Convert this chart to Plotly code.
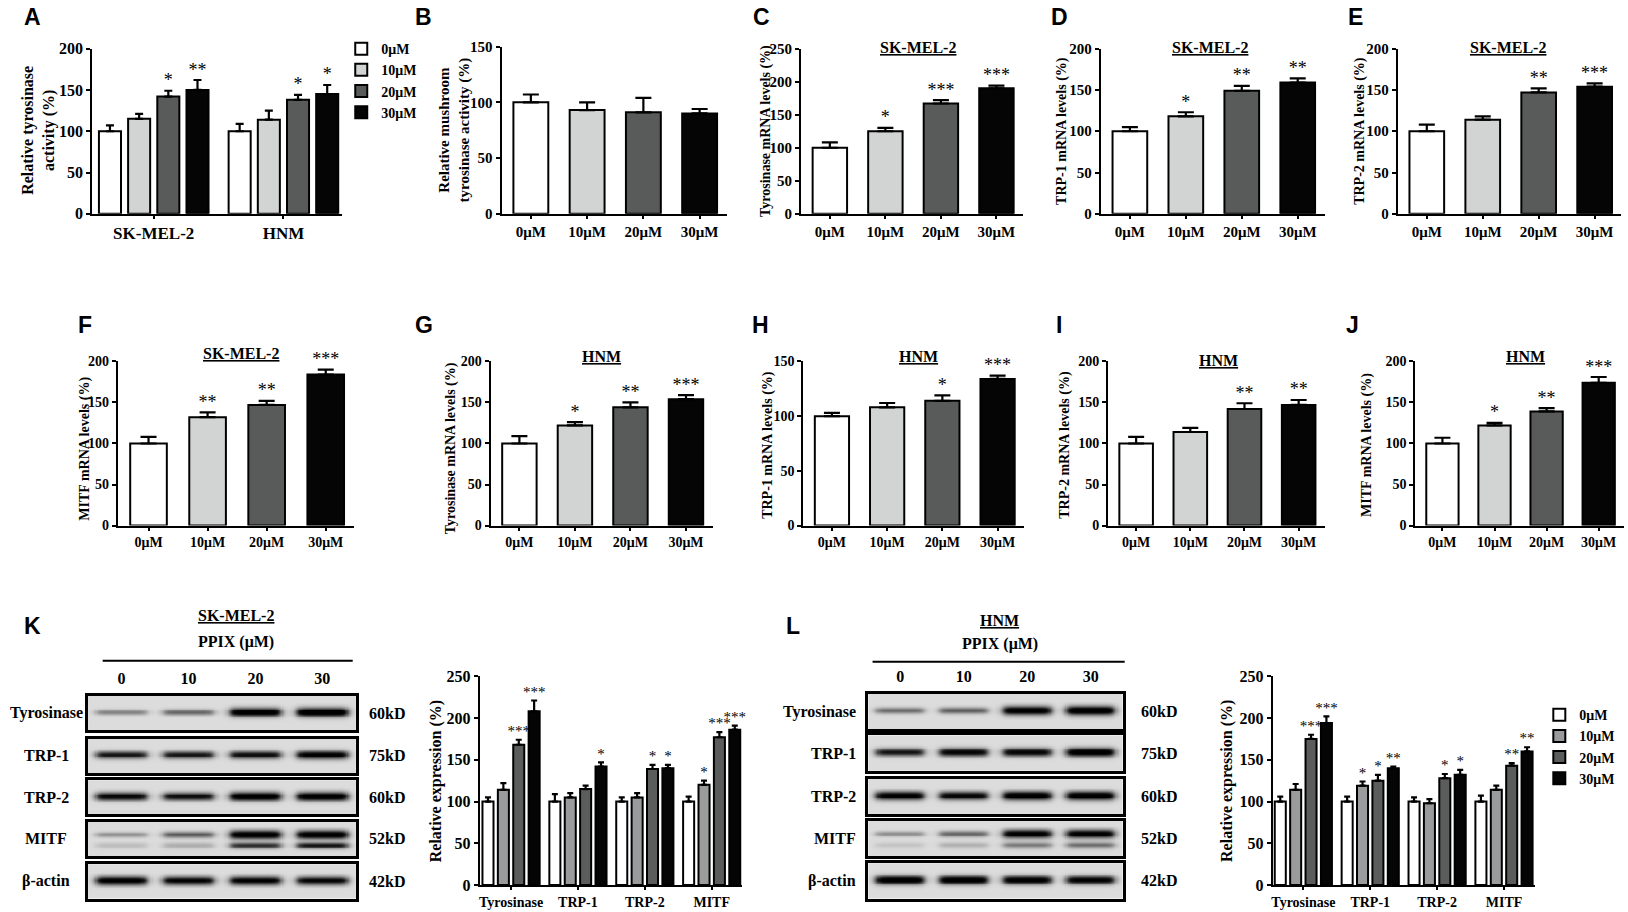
import numpy as np
import plotly.graph_objects as go

# positions were measured on a 1568 x 878 copy of the figure, scaled to the page here
# (with a small linear correction found by comparing renders)
GW, GH = 1568, 878
SERIF = 'Liberation Serif'
SANS = 'Liberation Sans'


def fx(x):
    return min(1, max(0, ((x + 0.6) / 0.996) / GW))


def fy(y):
    return min(1, max(0, 1 - ((y - 7.9) / 0.981) / GH))


doses = ['0μM', '10μM', '20μM', '30μM']
lanes = ['0', '10', '20', '30']
cell_lines = ['SK-MEL-2', 'HNM']
proteins = ['Tyrosinase', 'TRP-1', 'TRP-2', 'MITF']
blot_rows = ['Tyrosinase', 'TRP-1', 'TRP-2', 'MITF', 'β-actin']
blot_sizes = ['60kD', '75kD', '60kD', '52kD', '42kD']

# A - cellular tyrosinase activity (rows: cell line, cols: dose)
a_mean = [[100, 115, 142, 150], [100, 114, 138, 145]]
a_err = [[7, 6, 7, 12], [9, 11, 6, 11]]
a_sig = [['', '', '*', '**'], ['', '', '*', '*']]

# B - mushroom tyrosinase
b_mean = [100, 93, 91, 90]
b_err = [7, 7, 13, 4]
b_sig = ['', '', '', '']

# C-F SK-MEL-2 mRNA
c_mean = [100, 125, 167, 190]
c_err = [8, 5, 5, 4]
c_sig = ['', '*', '***', '***']
d_mean = [100, 118, 149, 159]
d_err = [5, 5, 6, 5]
d_sig = ['', '*', '**', '**']
e_mean = [100, 114, 147, 154]
e_err = [8, 4, 5, 4]
e_sig = ['', '', '**', '***']
f_mean = [100, 132, 147, 184]
f_err = [8, 6, 5, 6]
f_sig = ['', '**', '**', '***']

# G-J HNM mRNA
g_mean = [100, 122, 144, 154]
g_err = [9, 4, 6, 5]
g_sig = ['', '*', '**', '***']
h_mean = [100, 108, 114, 134]
h_err = [3, 4, 5, 3]
h_sig = ['', '', '*', '***']
i_mean = [100, 114, 142, 147]
i_err = [8, 5, 7, 6]
i_sig = ['', '', '**', '**']
j_mean = [100, 122, 139, 174]
j_err = [7, 3, 4, 7]
j_sig = ['', '*', '**', '***']

# K / L protein expression (rows: protein, cols: dose)
k_mean = [[100, 114, 168, 208], [100, 105, 115, 142], [100, 105, 139, 140], [100, 120, 177, 186]]
k_err = [[5, 8, 6, 13], [9, 5, 4, 5], [5, 5, 5, 4], [6, 5, 6, 5]]
k_sig = [['', '', '***', '***'], ['', '', '', '*'], ['', '', '*', '*'], ['', '*', '***', '***']]
l_mean = [[100, 114, 175, 194], [100, 119, 125, 140], [100, 98, 128, 132], [100, 114, 143, 160]]
l_err = [[6, 7, 5, 8], [6, 5, 7, 2], [5, 5, 5, 6], [7, 5, 3, 5]]
l_sig = [['', '', '***', '***'], ['', '*', '*', '**'], ['', '', '*', '*'], ['', '', '**', '**']]

# blot band darkness (rows: blot_rows, cols: lane); lower = second band under the main one
k_band = [[0.35, 0.45, 0.95, 1.0], [0.75, 0.75, 0.8, 0.9], [0.85, 0.8, 0.95, 0.95],
          [0.3, 0.5, 0.95, 0.95], [0.95, 0.9, 0.92, 0.88]]
k_lower = [[0, 0, 0, 0], [0, 0, 0, 0], [0, 0, 0, 0], [0.12, 0.18, 0.65, 0.75], [0, 0, 0, 0]]
l_band = [[0.45, 0.5, 0.95, 1.0], [0.75, 0.85, 0.85, 0.95], [0.9, 0.85, 0.95, 0.95],
          [0.3, 0.45, 0.9, 0.9], [0.95, 0.95, 0.92, 0.88]]
l_lower = [[0, 0, 0, 0], [0, 0, 0, 0], [0, 0, 0, 0], [0.1, 0.18, 0.4, 0.45], [0, 0, 0, 0]]

mrna_colors = ['#ffffff', '#d2d3d3', '#595b5b', '#050505']
wb_colors = ['#ffffff', '#9a9b9d', '#5b5c5c', '#050505']

fig = go.Figure()
axes = {}
annotations = []
shapes = []
n_ax = [0]


def new_axes(x0, x1, top, bottom):
    n_ax[0] += 1
    k = n_ax[0]
    s = '' if k == 1 else str(k)
    axes['xaxis' + s] = dict(domain=[fx(x0), fx(x1)], anchor='y' + s)
    axes['yaxis' + s] = dict(domain=[fy(bottom), fy(top)], anchor='x' + s)
    return 'x' + s, 'y' + s, s


def style_axes(s, xrange, ymax, dtick, tickvals, ticktext, tsize, xsize):
    line = dict(showline=True, linecolor='black', linewidth=2, ticks='outside',
                tickwidth=2, tickcolor='black', showgrid=False, zeroline=False)
    axes['xaxis' + s].update(line, range=xrange, tickvals=tickvals, ticktext=ticktext, ticklen=3,
                             tickfont=dict(family=SERIF, size=xsize, color='black', weight='bold'))
    axes['yaxis' + s].update(line, range=[0, ymax], dtick=dtick, ticklen=4,
                             tickfont=dict(family=SERIF, size=tsize, color='black', weight='bold'))


def add_bars(xa, ya, pos, vals, errs, colors, width, cap, name=None, legend=None):
    fig.add_trace(go.Bar(
        x=pos, y=vals, width=width, xaxis=xa, yaxis=ya, name=name,
        showlegend=legend is not None, legend=legend or 'legend',
        marker=dict(color=colors, line=dict(color='black', width=2)),
        error_y=dict(type='data', symmetric=False, array=errs, arrayminus=[0] * len(errs),
                     color='black', thickness=2.2, width=cap),
        hoverinfo='skip'))


def add_stars(xa, ya, pos, vals, errs, sig, size=18):
    fig.add_trace(go.Scatter(
        x=pos, y=[v + e for v, e in zip(vals, errs)], text=sig, mode='text',
        textposition='top center', xaxis=xa, yaxis=ya, showlegend=False, cliponaxis=False,
        textfont=dict(family=SERIF, size=size, color='black'), hoverinfo='skip'))


def bar_panel(mean, err, sig, center0, step, top, bottom, ymax, dtick, tsize, xsize):
    lo, hi = -0.52, 3.48
    xa, ya, s = new_axes(center0 + lo * step, center0 + hi * step, top, bottom)
    pos = list(range(len(mean)))
    add_bars(xa, ya, pos, mean, err, mrna_colors, 0.62, 8)
    add_stars(xa, ya, pos, mean, err, sig)
    style_axes(s, [lo, hi], ymax, dtick, pos, doses, tsize, xsize)


def grouped_panel(means, errs, sigs, groups, colors, center0, step, lo, hi, top, bottom,
                  ymax, dtick, bar_step, bar_w, cap, tsize, xsize, star_size, legend=None):
    xa, ya, s = new_axes(center0 + lo * step, center0 + hi * step, top, bottom)
    for j, dose in enumerate(doses):
        pos = [g + (j - 1.5) * bar_step for g in range(len(groups))]
        vals = [means[g][j] for g in range(len(groups))]
        ev = [errs[g][j] for g in range(len(groups))]
        add_bars(xa, ya, pos, vals, ev, colors[j], bar_w, cap, name=dose, legend=legend)
        add_stars(xa, ya, pos, vals, ev, [sigs[g][j] for g in range(len(groups))], star_size)
    style_axes(s, [lo, hi], ymax, dtick, list(range(len(groups))), groups, tsize, xsize)


def text(x, y, t, size, family=SERIF, bold=True, angle=0, xanchor='center'):
    annotations.append(dict(x=fx(x), y=fy(y), xref='paper', yref='paper', text=t,
                            showarrow=False, textangle=angle, xanchor=xanchor, yanchor='middle',
                            font=dict(family=family, size=size, color='black',
                                      weight='bold' if bold else 'normal')))


# ---- row 1 ----
grouped_panel(a_mean, a_err, a_sig, cell_lines, mrna_colors, 146, 124.5, -0.474, 1.454,
              47, 206, 200, 50, 0.225, 0.17, 4, 16, 17, 18, legend='legend')
bar_panel(b_mean, b_err, b_sig, 508, 54, 45, 206, 150, 50, 15, 15)
bar_panel(c_mean, c_err, c_sig, 795, 53.3, 47, 206, 250, 50, 15, 15)
bar_panel(d_mean, d_err, d_sig, 1083, 53.7, 47, 206, 200, 50, 15, 15)
bar_panel(e_mean, e_err, e_sig, 1368, 53.7, 47, 206, 200, 50, 15, 15)

# ---- row 2 ----
bar_panel(f_mean, f_err, f_sig, 141, 56.7, 348, 506, 200, 50, 14, 14)
bar_panel(g_mean, g_err, g_sig, 497, 53.3, 348, 506, 200, 50, 14, 14)
bar_panel(h_mean, h_err, h_sig, 797, 53, 348, 506, 150, 50, 14, 14)
bar_panel(i_mean, i_err, i_sig, 1089, 52, 348, 506, 200, 50, 14, 14)
bar_panel(j_mean, j_err, j_sig, 1383, 50, 348, 506, 200, 50, 14, 14)

# ---- row 3 quantification ----
grouped_panel(k_mean, k_err, k_sig, proteins, wb_colors, 489, 64.2, -0.47, 3.45,
              651, 852, 250, 50, 0.23, 0.165, 3, 16, 14, 15)
grouped_panel(l_mean, l_err, l_sig, proteins, wb_colors, 1249.5, 64.2, -0.46, 3.47,
              651, 852, 250, 50, 0.23, 0.165, 3, 16, 14, 15, legend='legend2')


# ---- western blots ----
def blot_image(dark, lower):
    xs = np.linspace(0, 4, 240)
    ys = np.linspace(0, 1, 40)
    X, Y = np.meshgrid(xs, ys)
    z = np.full_like(X, 0.12)
    for ln in range(4):
        h = 1 / (1 + np.exp((np.abs(X - (ln + 0.5)) - 0.38) / 0.035))
        c = 0.62 if lower[ln] > 0 else 0.52
        sd = 0.05 + 0.08 * dark[ln]
        z += dark[ln] * h * np.exp(-((Y - c) / sd) ** 2)
        if lower[ln] > 0:
            z += lower[ln] * h * np.exp(-((Y - 0.3) / 0.09) ** 2)
    return xs, ys, np.clip(z, 0, 1)


blot_scale = [[0, '#f4f4f4'], [0.12, '#dcdcdc'], [0.5, '#7a7a7a'], [0.85, '#161616'], [1, '#000000']]


def blot_panel(band, lower, x0, x1, tops, height, label_x, label_anchor, size_x):
    for r, name in enumerate(blot_rows):
        xa, ya, s = new_axes(x0, x1, tops[r], tops[r] + height)
        xs, ys, z = blot_image(band[r], lower[r])
        fig.add_trace(go.Heatmap(x=xs, y=ys, z=z, xaxis=xa, yaxis=ya, zmin=0, zmax=1,
                                 colorscale=blot_scale, showscale=False, hoverinfo='skip'))
        frame = dict(showline=True, mirror=True, linecolor='black', linewidth=3,
                     showgrid=False, zeroline=False, ticks='')
        axes['xaxis' + s].update(frame, range=[0, 4], showticklabels=False)
        axes['yaxis' + s].update(frame, range=[0, 1], showticklabels=False)
        if r == 0:
            axes['xaxis' + s].update(side='top', showticklabels=True,
                                     tickvals=[0.5, 1.5, 2.5, 3.5], ticktext=lanes, ticklabelstandoff=3,
                                     tickfont=dict(family=SERIF, size=16, color='black', weight='bold'))
        yc = tops[r] + height / 2
        text(label_x, yc, name, 16, xanchor=label_anchor)
        text(size_x, yc, blot_sizes[r], 16)


blot_panel(k_band, k_lower, 83, 340, [670, 711, 751, 791, 832], 33, 43, 'center', 370)
blot_panel(l_band, l_lower, 832, 1076, [668, 708, 750, 790, 831], 34, 822, 'right', 1111)

text(225, 593, '<u>SK-MEL-2</u>', 16)
text(225, 618, 'PPIX (μM)', 16)
text(958, 597, '<u>HNM</u>', 16)
text(958, 620, 'PPIX (μM)', 16)
for x0, x1, y in [(97, 337, 636), (836, 1078, 637)]:
    shapes.append(dict(type='line', xref='paper', yref='paper', x0=fx(x0), x1=fx(x1),
                       y0=fy(y), y1=fy(y), line=dict(color='black', width=2)))

# panel letters
for lab, x, y in [('A', 30, 17), ('B', 405, 17), ('C', 729, 17), ('D', 1015, 17), ('E', 1300, 17),
                  ('F', 80, 313), ('G', 405, 313), ('H', 728, 313), ('I', 1015, 313), ('J', 1297, 313),
                  ('K', 30, 603), ('L', 760, 603)]:
    text(x, y, lab, 23, family=SANS)

# axis titles
text(36, 126, 'Relative tyrosinase<br>activity (%)', 16, angle=-90)
text(435, 125, 'Relative mushroom<br>tyrosinase activity (%)', 15, angle=-90)
text(733, 126, 'Tyrosinase mRNA levels (%)', 14, angle=-90)
text(1018, 126, 'TRP-1 mRNA levels (%)', 14, angle=-90)
text(1304, 126, 'TRP-2 mRNA levels (%)', 14, angle=-90)
text(80, 432, 'MITF mRNA levels (%)', 14, angle=-90)
text(431, 432, 'Tyrosinase mRNA levels (%)', 14, angle=-90)
text(735, 428, 'TRP-1 mRNA levels (%)', 14, angle=-90)
text(1020, 428, 'TRP-2 mRNA levels (%)', 14, angle=-90)
text(1310, 428, 'MITF mRNA levels (%)', 14, angle=-90)
text(417, 752, 'Relative expression (%)', 16, angle=-90)
text(1176, 752, 'Relative expression (%)', 16, angle=-90)

# underlined cell line headings
for t, x, y in [('SK-MEL-2', 880, 46), ('SK-MEL-2', 1160, 46), ('SK-MEL-2', 1446, 46),
                ('SK-MEL-2', 230, 340), ('HNM', 576, 343), ('HNM', 880, 343),
                ('HNM', 1168, 347), ('HNM', 1463, 343)]:
    text(x, y, '<u>' + t + '</u>', 16)

legend_style = dict(xanchor='left', yanchor='top', bgcolor='rgba(0,0,0,0)', tracegroupgap=0,
                    font=dict(family=SERIF, size=14, color='black', weight='bold'))
fig.update_layout(
    width=1628, height=912, margin=dict(l=0, r=0, t=0, b=0),
    paper_bgcolor='white', plot_bgcolor='white', barmode='overlay',
    legend=dict(legend_style, x=fx(326), y=fy(32)),
    legend2=dict(legend_style, x=fx(1476), y=fy(673)),
    annotations=annotations, shapes=shapes, **axes)

# drop the page's default body margin so the figure sits at the top-left corner
fig.write_html('out.html', config={'displayModeBar': False},
               post_script="document.body.style.margin='0';document.body.style.overflow='hidden';")
